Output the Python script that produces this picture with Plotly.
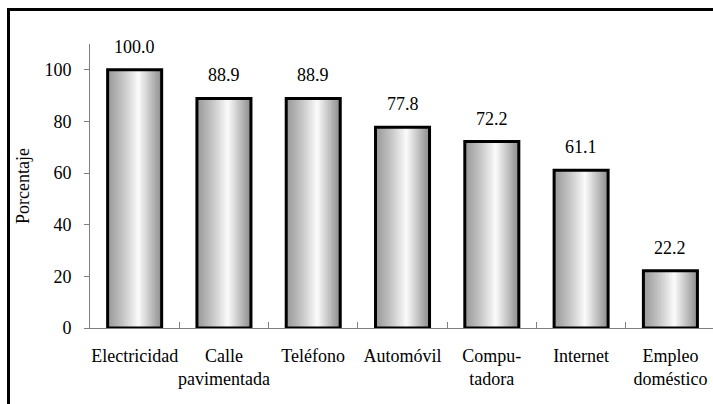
import plotly.graph_objects as go

categories = ["Electricidad", "Calle<br>pavimentada", "Teléfono", "Automóvil",
              "Compu-<br>tadora", "Internet", "Empleo<br>doméstico"]
values = [100.0, 88.9, 88.9, 77.8, 72.2, 61.1, 22.2]
value_labels = ["100.0", "88.9", "88.9", "77.8", "72.2", "61.1", "22.2"]
y_ticks = [0, 20, 40, 60, 80, 100]

FONT = "Liberation Serif, DejaVu Serif, Noto Serif, serif"
BAR_W = 0.605
N_SLICES = 40
PEAK = 0.57

def shade(t):
    if t <= PEAK:
        u = t / PEAK
        c = 155 + (252 - 155) * (u ** 1.2)
    else:
        u = (t - PEAK) / (1 - PEAK)
        c = 252 - (252 - 140) * (u ** 1.0)
    c = int(round(c))
    return f"rgb({c},{c},{c})"

fig = go.Figure()
step = BAR_W / N_SLICES
for i in range(N_SLICES):
    t = (i + 0.5) / N_SLICES
    start = -BAR_W / 2 + i * step
    fig.add_trace(go.Bar(
        x=categories, y=values,
        width=BAR_W / 2 - start, offset=start,
        marker=dict(color=shade(t), line=dict(width=0)),
        hoverinfo="skip", showlegend=False,
    ))

fig.add_trace(go.Bar(
    x=categories, y=values, width=BAR_W, offset=-BAR_W / 2,
    marker=dict(color="rgba(0,0,0,0)", line=dict(color="black", width=3)),
    showlegend=False,
))

for c, v, lab in zip(categories, values, value_labels):
    fig.add_annotation(x=c, y=v, text=lab, showarrow=False, yanchor="bottom",
                       yshift=11, font=dict(family=FONT, size=18, color="black"))

fig.update_layout(
    width=713, height=404,
    margin=dict(l=90, r=0, t=44, b=76),
    paper_bgcolor="white", plot_bgcolor="white",
    barmode="overlay",
    font=dict(family=FONT, size=18, color="black"),
    shapes=[
        dict(type="line", xref="paper", yref="paper",
             x0=(8.5 - 90) / 623, x1=(8.5 - 90) / 623,
             y0=(328 - 9.5) / 284, y1=-0.5,
             line=dict(color="black", width=3)),
        dict(type="line", xref="paper", yref="paper",
             x0=(7 - 90) / 623, x1=1.2,
             y0=(328 - 9.5) / 284, y1=(328 - 9.5) / 284,
             line=dict(color="black", width=3)),
    ],
)

fig.update_xaxes(
    type="category", range=[-0.5, 6.477], automargin=False, tickangle=0,
    showline=True, linecolor="#808080", linewidth=1,
    ticks="inside", tickson="boundaries", ticklen=6, tickcolor="#808080",
    ticklabelstandoff=11,
    showgrid=False, zeroline=False,
    tickfont=dict(family=FONT, size=18, color="black"),
)
fig.update_yaxes(
    range=[0, 110], tickvals=y_ticks, automargin=False,
    showline=True, linecolor="#808080", linewidth=1,
    ticks="outside", ticklen=5, tickcolor="#808080",
    ticklabelstandoff=9,
    showgrid=False, zeroline=False,
    tickfont=dict(family=FONT, size=18, color="black"),
    title=dict(text="Porcentaje", font=dict(family=FONT, size=18, color="black"), standoff=10),
)

fig.write_html("out.html", config={"displayModeBar": False},
               post_script="document.body.style.margin='0';")
